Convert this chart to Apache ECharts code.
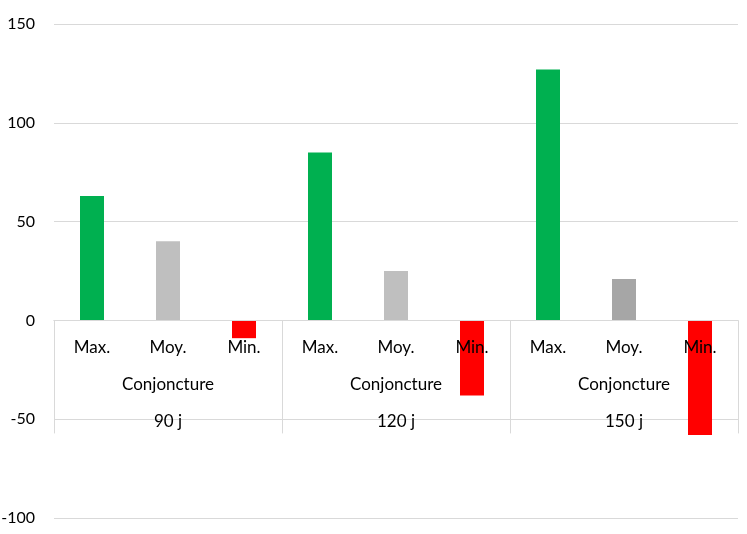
<!DOCTYPE html>
<html>
<head>
<meta charset="utf-8">
<script src="https://cdn.jsdelivr.net/npm/echarts@6/dist/echarts.min.js"></script>
<style>html,body{margin:0;padding:0;background:#fff}#c{width:747px;height:534px}</style>
</head>
<body>
<div id="c"></div>
<script>
const horizons = ["90 j", "120 j", "150 j"];
const groupLabel = "Conjoncture";
const measures = ["Max.", "Moy.", "Min."];
const maxVals = [63, 85, 127];
const moyVals = [40, 25, 21];
const minVals = [-9, -38, -58];
const moyColors = ["#BFBFBF", "#BFBFBF", "#A6A6A6"];
const yTicks = [-100, -50, 0, 50, 100, 150];

const categories = [];
const data = [];
horizons.forEach((h, i) => {
  categories.push(measures[0], measures[1], measures[2]);
  data.push({ value: maxVals[i], itemStyle: { color: "#00B050" } });
  data.push({ value: moyVals[i], itemStyle: { color: moyColors[i] } });
  data.push({ value: minVals[i], itemStyle: { color: "#FF0000" } });
});

const font = "Lato";
const gridTop = 24, gridBottom = 16, H = 534;
const plotH = H - gridTop - gridBottom;
const yMin = yTicks[0], yMax = yTicks[yTicks.length - 1];
const zeroFromBottom = plotH * (0 - yMin) / (yMax - yMin);

const chart = echarts.init(document.getElementById("c"), null, { renderer: "canvas" });
chart.setOption({
  animation: false,
  textStyle: { fontFamily: font },
  grid: { left: 54, right: 9, top: gridTop, bottom: gridBottom, containLabel: false, outerBoundsMode: "none" },
  xAxis: [
    {
      type: "category",
      data: categories,
      position: "bottom",
      offset: -zeroFromBottom,
      z: 5,
      axisLine: { show: true, onZero: false, lineStyle: { color: "#D9D9D9", width: 1 } },
      axisTick: { show: false },
      axisLabel: { color: "#000", fontSize: 17, fontFamily: font, margin: 19 },
      splitLine: { show: false }
    },
    {
      type: "category",
      data: horizons,
      position: "bottom",
      offset: -zeroFromBottom,
      z: 5,
      axisLine: { show: true, onZero: false, lineStyle: { color: "#D9D9D9", width: 1 } },
      axisTick: { show: true, length: 113, lineStyle: { color: "#D9D9D9", width: 1 } },
      axisLabel: {
        color: "#000", fontSize: 17, fontFamily: font, margin: 46, lineHeight: 37,
        formatter: v => groupLabel + "\n" + v
      },
      splitLine: { show: false }
    }
  ],
  yAxis: {
    type: "value",
    min: yMin,
    max: yMax,
    interval: 50,
    axisLine: { show: false },
    axisTick: { show: false },
    axisLabel: { color: "#000", fontSize: 16, fontFamily: font, margin: 19 },
    splitLine: { show: true, lineStyle: { color: "#D9D9D9", width: 1 } }
  },
  series: [
    {
      type: "bar",
      xAxisIndex: 0,
      data: data,
      barWidth: 24,
      z: 1
    }
  ]
});
</script>
</body>
</html>
